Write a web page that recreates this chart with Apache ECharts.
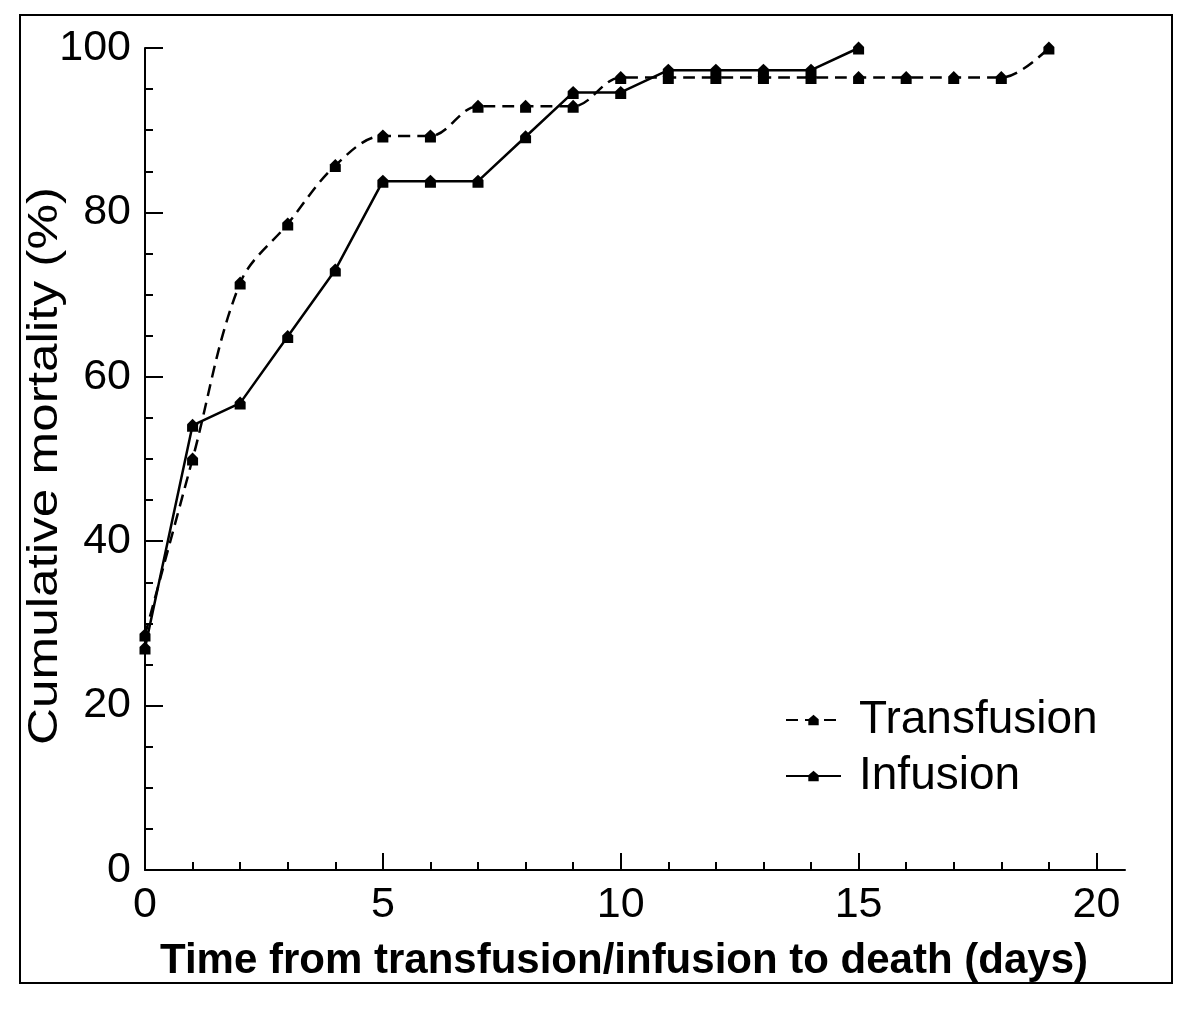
<!DOCTYPE html>
<html>
<head>
<meta charset="utf-8">
<script src="https://cdn.jsdelivr.net/npm/echarts@6/dist/echarts.min.js"></script>
<style>
  html, body { margin: 0; padding: 0; background: #fff; }
  #chart { width: 1200px; height: 1014px; }
</style>
</head>
<body>
<div id="chart"></div>
<script>
// cumulative mortality (%) by day
const transfusionDays = [0, 1, 2, 3, 4, 5, 6, 7, 8, 9, 10, 11, 12, 13, 14, 15, 16, 17, 18, 19];
const transfusionPct = [28.6, 50.0, 71.4, 78.6, 85.7, 89.3, 89.3, 92.9, 92.9, 92.9, 96.4, 96.4, 96.4, 96.4, 96.4, 96.4, 96.4, 96.4, 96.4, 100];
const infusionDays = [0, 1, 2, 3, 4, 5, 6, 7, 8, 9, 10, 11, 12, 13, 14, 15];
const infusionPct = [27.0, 54.1, 56.8, 64.9, 73.0, 83.8, 83.8, 83.8, 89.2, 94.6, 94.6, 97.3, 97.3, 97.3, 97.3, 100];

const xMajorTicks = [0, 5, 10, 15, 20];
const xMinorTicks = [1, 2, 3, 4, 6, 7, 8, 9, 11, 12, 13, 14, 16, 17, 18, 19];

const xTitle = 'Time from transfusion/infusion to death (days)';
const yTitle = 'Cumulative mortality (%)';

const FONT = '"Liberation Sans", Arial, sans-serif';
const MARKER = 'path://M5 0 L10 5 L10 12 L0 12 L0 5 Z';

const toPairs = (xs, ys) => xs.map((x, i) => [x, ys[i]]);

const chart = echarts.init(document.getElementById('chart'));

const option = {
  backgroundColor: '#fff',
  animation: false,
  graphic: [
    {
      type: 'rect',
      shape: { x: 20, y: 15, width: 1152, height: 968 },
      style: { fill: 'none', stroke: '#000', lineWidth: 2 },
      z: 0,
    },
    // axis titles as text, stretched a bit like the original
    {
      type: 'text',
      x: 45,
      y: 466,
      rotation: Math.PI / 2,
      scaleX: 1.22,
      style: {
        text: yTitle,
        fontSize: 42,
        fontFamily: FONT,
        fill: '#000',
        align: 'center',
        verticalAlign: 'middle',
      },
    },
    {
      type: 'text',
      x: 624,
      y: 961,
      style: {
        text: xTitle,
        fontSize: 42,
        fontWeight: 'bold',
        fontFamily: FONT,
        fill: '#000',
        align: 'center',
        verticalAlign: 'middle',
      },
    },
  ],
  legend: {
    orient: 'vertical',
    left: 780,
    top: 692,
    itemWidth: 55,
    itemHeight: 13,
    itemGap: 10,
    data: ['Transfusion', 'Infusion'],
    textStyle: {
      fontSize: 46,
      fontFamily: FONT,
      color: '#000',
      padding: [0, 0, 0, 13],
    },
  },
  grid: {
    left: 145,
    right: 75,
    top: 48,
    bottom: 144,
    outerBoundsMode: 'none',
  },
  xAxis: [
    {
      type: 'value',
      min: 0,
      max: 20.6,
      axisLine: { lineStyle: { color: '#000', width: 2 } },
      axisTick: {
        inside: true,
        length: 17,
        customValues: xMajorTicks,
        lineStyle: { color: '#000', width: 2 },
      },
      axisLabel: {
        customValues: xMajorTicks,
        fontSize: 43,
        fontFamily: FONT,
        color: '#000',
        margin: 14,
      },
      splitLine: { show: false },
    },
    {
      type: 'value',
      min: 0,
      max: 20.6,
      position: 'bottom',
      axisLine: { show: false },
      axisTick: {
        inside: true,
        length: 8,
        customValues: xMinorTicks,
        lineStyle: { color: '#000', width: 2 },
      },
      axisLabel: { show: false },
      splitLine: { show: false },
    },
  ],
  yAxis: {
    type: 'value',
    min: 0,
    max: 100,
    interval: 20,
    axisLine: { show: true, lineStyle: { color: '#000', width: 2 } },
    axisTick: {
      show: true,
      inside: true,
      length: 18,
      lineStyle: { color: '#000', width: 2 },
    },
    minorTick: {
      show: true,
      splitNumber: 4,
      length: 8,
      lineStyle: { color: '#000', width: 2 },
    },
    axisLabel: {
      fontSize: 43,
      fontFamily: FONT,
      color: '#000',
      margin: 14,
    },
    splitLine: { show: false },
  },
  series: [
    {
      name: 'Transfusion',
      type: 'line',
      data: toPairs(transfusionDays, transfusionPct),
      smooth: 0.35,
      symbol: MARKER,
      symbolSize: [11, 13],
      lineStyle: { color: '#000', width: 2.5, type: [12, 7] },
      itemStyle: { color: '#000' },
    },
    {
      name: 'Infusion',
      type: 'line',
      data: toPairs(infusionDays, infusionPct),
      symbol: MARKER,
      symbolSize: [11, 13],
      lineStyle: { color: '#000', width: 2.5 },
      itemStyle: { color: '#000' },
    },
  ],
};

chart.setOption(option);
</script>
</body>
</html>
